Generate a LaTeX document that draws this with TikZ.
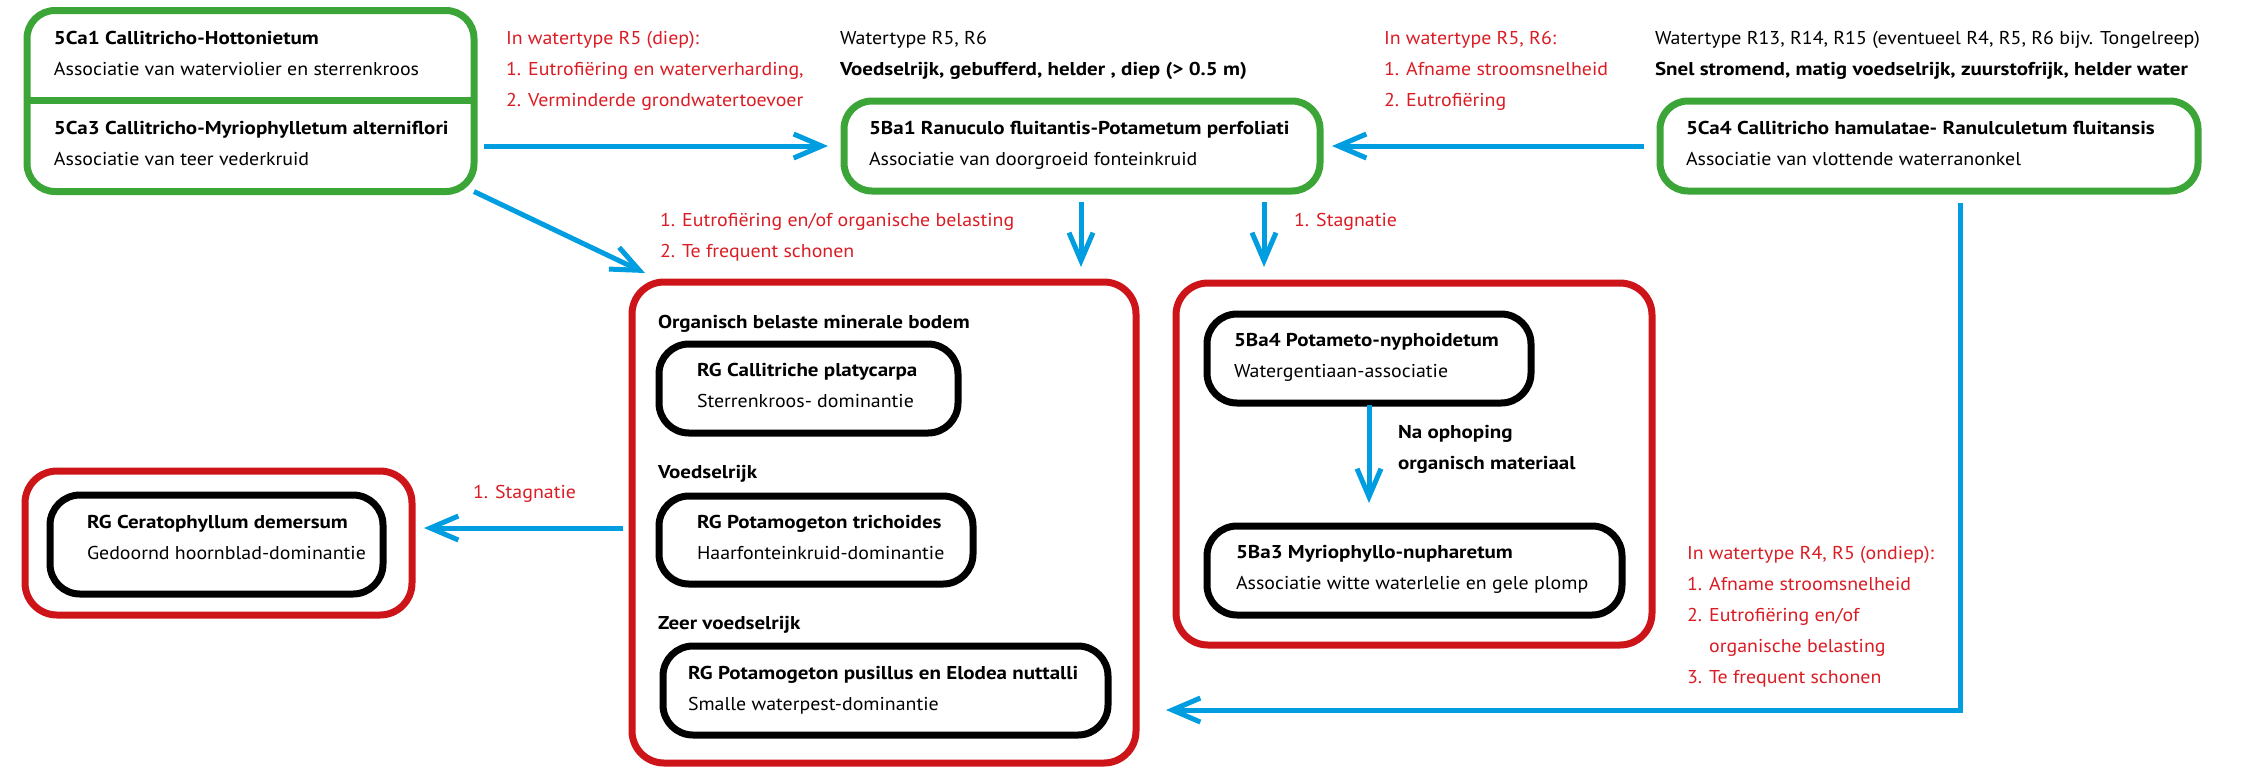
\documentclass[tikz,border=0pt]{standalone}
\usepackage{fontspec}
\setmainfont{PT Sans}[FakeStretch=1.07]
\newfontfamily\bdfam{PT Sans}[FakeStretch=1.13]
\newcommand\hb[1]{{\bdfam\bfseries #1}}
\usetikzlibrary{arrows.meta}
\definecolor{vgreen}{RGB}{60,165,55}
\definecolor{vred}{RGB}{205,20,25}
\definecolor{tred}{RGB}{218,28,36}
\definecolor{vblue}{RGB}{0,158,224}
\begin{document}
\begin{tikzpicture}[x=0.5pt,y=-0.5pt,
  every node/.style={font=\fontsize{9.3}{15.5}\selectfont, outer sep=0pt},
  frame/.style={draw, line width=3.5pt, rounded corners=14pt, inner sep=0pt},
  gbox/.style={frame, draw=vgreen},
  kbox/.style={frame, draw=black, rounded corners=15pt},
  rbox/.style={frame, draw=vred, rounded corners=16pt},
  lbl/.style={align=left, inner sep=0pt, anchor=base west},
  rlbl/.style={lbl, text=tred},
  arr/.style={draw=vblue, line width=2.5pt, -{Straight Barb[length=14pt,width=12pt]}},
]
\useasboundingbox (0,0) rectangle (2253,768);

% green boxes
\node[gbox, minimum width=223.5pt, minimum height=90.5pt] (A) at (250.5,101) {};
\coordinate (dv) at (0,100);
\draw[vgreen, line width=3.5pt] (A.west |- dv) -- (A.east |- dv);
\node[lbl] (A1t) at (54,75) {\hb{5Ca1 Callitricho-Hottonietum}\\Associatie van waterviolier en sterrenkroos};
\node[lbl] (A3t) at (54,165) {\hb{5Ca3 Callitricho-Myriophylletum alterniflori}\\Associatie van teer vederkruid};

\node[gbox, minimum width=238pt, minimum height=45pt] (B) at (1082,146) {};
\node[lbl] (Bt) at (869,165) {\hb{5Ba1 Ranuculo fluitantis-Potametum perfoliati}\\Associatie van doorgroeid fonteinkruid};

\node[gbox, minimum width=269pt, minimum height=45pt] (C) at (1929,146) {};
\node[lbl] (Ct) at (1686,165) {\hb{5Ca4 Callitricho hamulatae- Ranulculetum fluitansis}\\Associatie van vlottende waterranonkel};

% red boxes
\node[rbox, minimum width=252pt, minimum height=240.5pt] (R1) at (884,522.5) {};
\node[rbox, minimum width=238pt, minimum height=181pt] (R2) at (1414,464) {};
\node[rbox, minimum width=193.5pt, minimum height=72pt] (R3) at (218.5,543) {};

% black boxes
\node[kbox, minimum width=149.5pt, minimum height=44.5pt] (RG1) at (808.5,388.5) {};
\node[lbl] (RG1t) at (697,407) {\hb{RG Callitriche platycarpa}\\Sterrenkroos- dominantie};
\node[kbox, minimum width=157pt, minimum height=44pt] (RG2) at (816,540) {};
\node[lbl] (RG2t) at (697,559) {\hb{RG Potamogeton trichoides}\\Haarfonteinkruid-dominantie};
\node[kbox, minimum width=222.5pt, minimum height=44.5pt] (RG3) at (885.5,690.5) {};
\node[lbl] (RG3t) at (688,710) {\hb{RG Potamogeton pusillus en Elodea nuttalli}\\Smalle waterpest-dominantie};
\node[kbox, minimum width=162pt, minimum height=44.5pt] (Ba4) at (1369,358.5) {};
\node[lbl] (Ba4t) at (1234,377) {\hb{5Ba4 Potameto-nyphoidetum}\\Watergentiaan-associatie};
\node[kbox, minimum width=207.5pt, minimum height=44.5pt] (Ba3) at (1414.5,570.5) {};
\node[lbl] (Ba3t) at (1236,589) {\hb{5Ba3 Myriophyllo-nupharetum}\\Associatie witte waterlelie en gele plomp};
\node[kbox, minimum width=166.5pt, minimum height=49.5pt] (RGC) at (216.5,544.5) {};
\node[lbl] (RGCt) at (87,559) {\hb{RG Ceratophyllum demersum}\\Gedoornd hoornblad-dominantie};

% headings
\node[lbl] (h1) at (658,328) {\hb{Organisch belaste minerale bodem}};
\node[lbl] (h2) at (658,478) {\hb{Voedselrijk}};
\node[lbl] (h3) at (658,629) {\hb{Zeer voedselrijk}};
\node[lbl] (h4) at (1398,469) {\hb{Na ophoping}\\\hb{organisch materiaal}};

% top texts
\node[rlbl] (tl) at (506,106) {In watertype R5 (diep):\\1. Eutrofiëring en waterverharding,\\2. Verminderde grondwatertoevoer};
\node[lbl] (tm) at (840,75) {Watertype R5, R6\\\hb{Voedselrijk, gebufferd, helder , diep (> 0.5 m)}};
\node[rlbl] (tr) at (1384,106) {In watertype R5, R6:\\1. Afname stroomsnelheid\\2. Eutrofiëring};
\node[lbl] (tr2) at (1655,75) {Watertype R13, R14, R15 (eventueel R4, R5, R6 bijv. Tongelreep)\\\hb{Snel stromend, matig voedselrijk, zuurstofrijk, helder water}};

% arrow labels
\node[rlbl] (l3) at (660,257) {1. Eutrofiëring en/of organische belasting\\2. Te frequent schonen};
\node[rlbl] (l5) at (1294,226) {1. Stagnatie};
\node[rlbl] (l7) at (473,498) {1. Stagnatie};
\node[rlbl] (l6) at (1687,683) {In watertype R4, R5 (ondiep):\\1. Afname stroomsnelheid\\2. Eutrofiëring en/of\\\phantom{2. }organische belasting\\3. Te frequent schonen};

% arrows
\coordinate (d3) at (645,273);
\coordinate (x4) at (1081,0);
\coordinate (x5) at (1264,0);
\coordinate (c6) at (1960,710);
\coordinate (y7) at (0,528);
\draw[arr, shorten <=5pt, shorten >=8pt] (A.east |- B.west) -- (B.west);
\draw[arr, shorten <=8pt, shorten >=6pt] (C.west) -- (B.east);
\draw[arr] (A.south east) -- (d3);
\draw[arr, shorten <=5.5pt, shorten >=7.5pt] (B.south -| x4) -- (R1.north -| x4);
\draw[arr, shorten <=5.5pt, shorten >=8pt] (B.south -| x5) -- (R2.north -| x5);
\draw[arr, shorten <=6pt, shorten >=15pt] (C.south -| c6) -- (c6) -- (R1.east |- c6);
\draw[arr, shorten <=4.5pt, shorten >=6pt] (R1.west |- y7) -- (R3.east |- y7);
\draw[arr, shorten <=1pt, shorten >=11.5pt] (Ba4.south) -- (Ba4.south |- Ba3.north);
\end{tikzpicture}
\end{document}
